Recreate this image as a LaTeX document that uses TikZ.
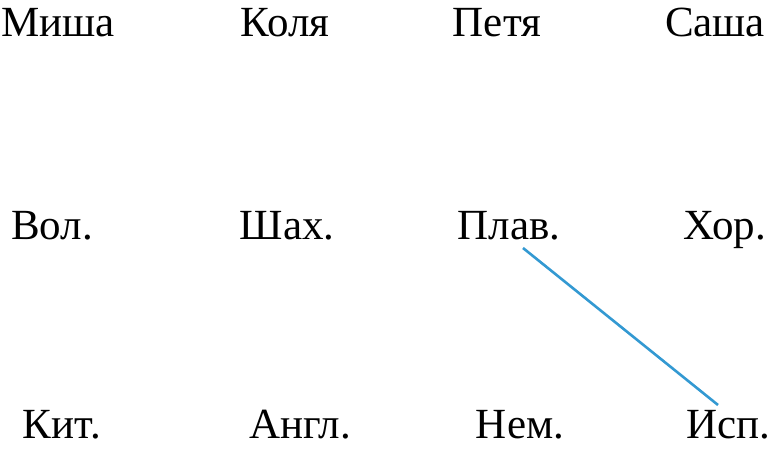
\documentclass[tikz,border=0pt]{standalone}
\usepackage{fontspec}
\setmainfont{Liberation Serif}
\usetikzlibrary{positioning}
\definecolor{linkblue}{RGB}{51,153,210}
\tikzset{
    %Define style for words
    word/.style={
           anchor=base,
           inner sep=0pt,
           font=\fontsize{43}{50}\selectfont,
           text centered},
    % Define link style
    link/.style={
           draw=linkblue,
           line width=2.6pt}
}
\begin{document}
\begin{tikzpicture}[x=1pt,y=1pt]
 \useasboundingbox (0,0) rectangle (771,450);
 %names
\node[word](misha) at (58,413){Миша};
\node[word](kolya) at (285,413){Коля};
\node[word](petya) at (497,413){Петя};
\node[word](sasha) at (715,413){Саша};
 %hobbies
\node[word](vol) at (52,210){Вол.};
\node[word](shah) at (287,210){Шах.};
\node[word](plav) at (509,210){Плав.};
\node[word](hor) at (725,210){Хор.};
 %languages
\node[word](kit) at (62,12){Кит.};
\node[word](angl) at (300,12){Англ.};
\node[word](nem) at (520,12){Нем.};
\node[word](isp) at (728,12){Исп.};

 \path[link]
    ([xshift=14pt,yshift=-8pt]plav.base) -- ([xshift=-10pt,yshift=33pt]isp.base);
\end{tikzpicture}
\end{document}
